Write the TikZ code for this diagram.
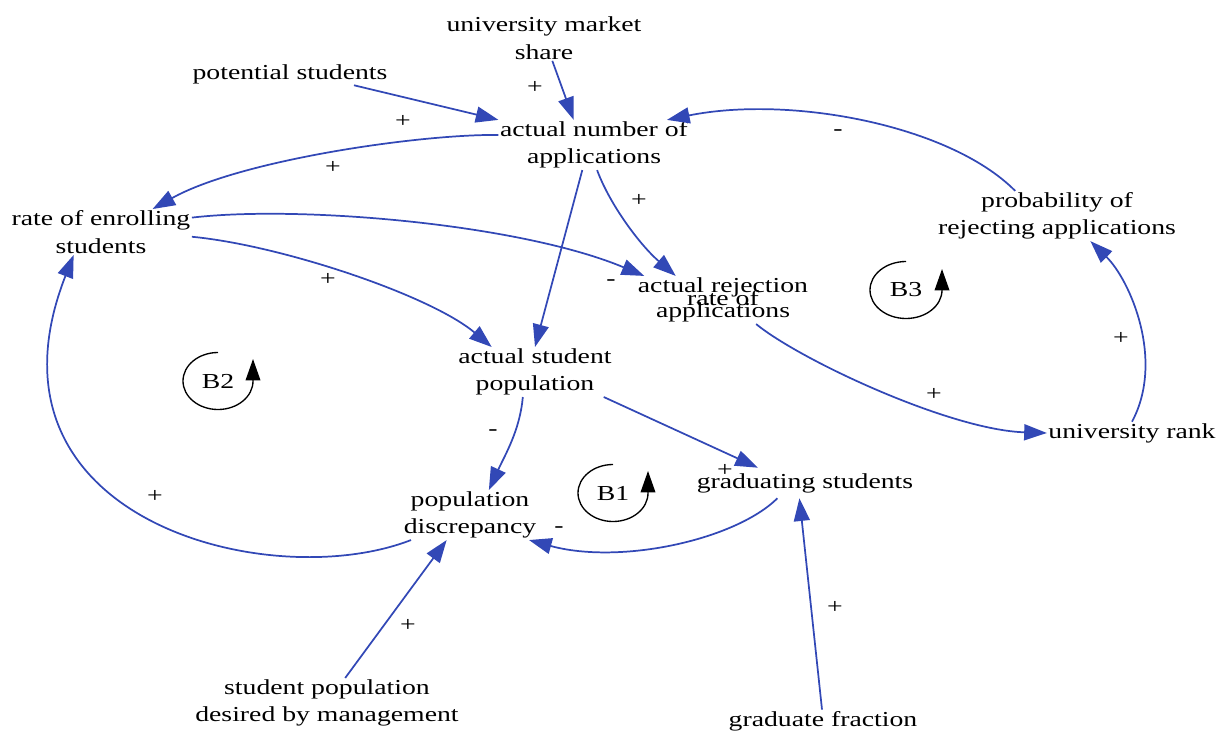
\documentclass[tikz,border=0pt]{standalone}
\usepackage{fontspec}
\setmainfont{Liberation Serif}[FakeStretch=1.3]
\usepackage{tikz}
\usetikzlibrary{arrows.meta}
\definecolor{linkc}{RGB}{50,72,182}
\newcommand{\cldfont}{\fontsize{16}{20.6}\selectfont}

\tikzset{
  var/.style={inner sep=1pt,align=center,font=\cldfont},
  sign/.style={inner sep=0pt,font=\cldfont},
  link/.style={draw=linkc,line width=1.3pt,-{Triangle[length=17pt,width=12pt]}},
  loopc/.style={draw=black,line width=1pt,-{Triangle[length=16pt,width=11pt]}},
}

\begin{document}
\begin{tikzpicture}[x=0.75pt,y=-0.75pt]
\useasboundingbox (0,0) rectangle (1223,731);

% variables
\node[var] (ums) at (544,38) {university market\\share};
\node[var] (pot) at (290,74) {potential students};
\node[var] (apps) at (594,145) {actual number of\\applications};
\node[var] (enroll) at (101,232) {rate of enrolling\\students};
\node[var] (prob) at (1057,216) {probability of\\rejecting applications};
\node[var] (arej) at (723,300) {actual rejection\\[-11pt]rate of\\[-11pt]applications};
\node[var] (asp) at (535,372) {actual student\\population};
\node[var] (rank) at (1132,433) {university rank};
\node[var,inner ysep=4pt] (grad) at (805,483) {graduating students};
\node[var] (disc) at (470,515) {population\\discrepancy};
\node[var] (desired) at (327,703) {student population\\desired by management};
\node[var] (frac) at (823,721) {graduate fraction};

% causal links
\draw[link] (pot.-10) -- (apps.north west);
\draw[link] (ums.-70) -- (apps.129);
\draw[link] (apps.174) .. controls (420,134) and (240,160) .. (enroll.24);
\draw[link] (enroll.9) .. controls (300,205) and (520,224) .. (arej.163);
\draw[link] (enroll.-3) .. controls (280,245) and (430,295) .. (asp.150);
\draw[link] (apps.-115) -- (asp.north);
\draw[link] (apps.-83) .. controls (610,205) and (640,245) .. (arej.153);
\draw[link] (arej.-36) .. controls (800,360) and (950,430) .. (rank.west);
\draw[link] (rank.north) .. controls (1165,360) and (1130,280) .. (prob.-37);
\draw[link] (prob.149) .. controls (950,125) and (790,95) .. (apps.19);
\draw[link] (asp.-116) .. controls (520,430) and (505,455) .. (disc.53);
\draw[link] (asp.-20) -- (grad.162);
\draw[link] (grad.-151) .. controls (735,540) and (620,565) .. (disc.-23);
\draw[link] (disc.-157) .. controls (270,595) and (-30,520) .. (enroll.-140);
\draw[link] (desired.54) -- (disc.-133);
\draw[link] (frac.95) -- (grad.-110);

% polarities
\foreach \sx/\sy/\sg [count=\i] in {403/121/+, 535/87/+, 333/167/+,
    611/283/-, 328/279/+, 639/200/+, 934/394/+, 1121/338/+, 838/133/-,
    493/433/-, 725/470/+, 559/530/-, 155/496/+, 408/625/+, 835/607/+}
  \node[sign] (sg\i) at (\sx,\sy) {\sg};

% loops
\node[var] (b1) at (613,493) {B1};
\draw[loopc] (b1.center) ++(0,-28.5)
  arc[start angle=270,end angle=0,x radius=35,y radius=28.5] -- ++(0,-22);
\node[var] (b2) at (218,381) {B2};
\draw[loopc] (b2.center) ++(0,-28.5)
  arc[start angle=270,end angle=0,x radius=35,y radius=28.5] -- ++(0,-22);
\node[var] (b3) at (906,290) {B3};
\draw[loopc] (b3.center) ++(0,-28.5)
  arc[start angle=270,end angle=0,x radius=36,y radius=28.5] -- ++(0,-21);

\end{tikzpicture}
\end{document}
